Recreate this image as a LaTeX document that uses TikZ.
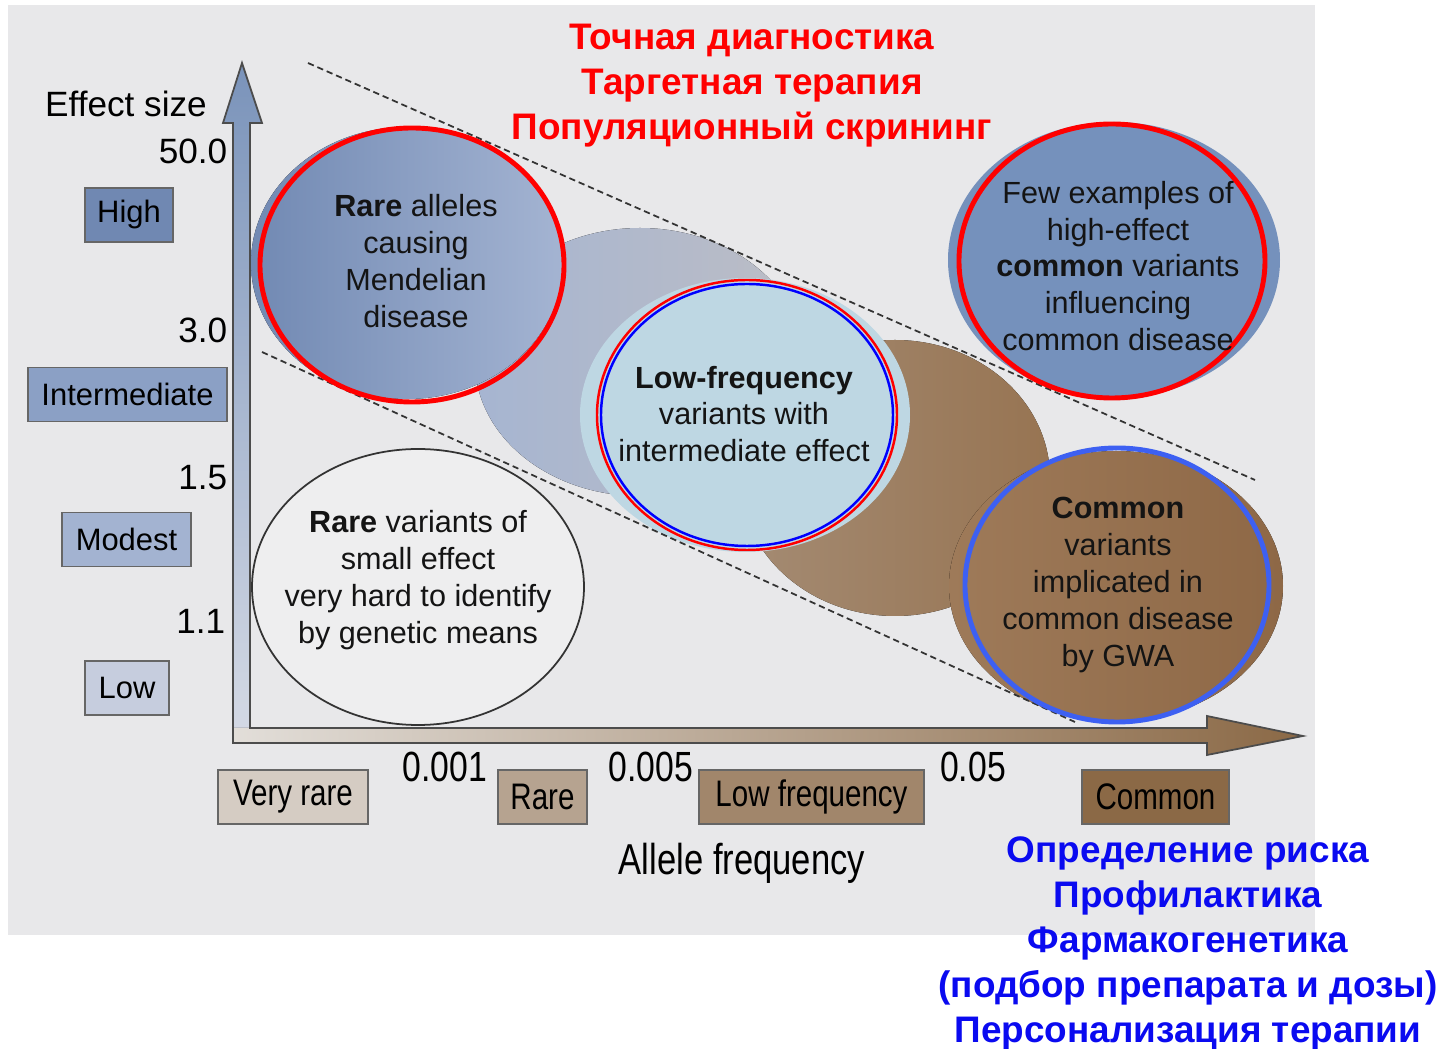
\documentclass[tikz,border=0pt]{standalone}
\usepackage{fontspec}
\setmainfont{Liberation Sans}
\newfontfamily\narrowfont[FakeStretch=0.8]{Liberation Sans}

\definecolor{bgGrey}{HTML}{E8E8EA}
\definecolor{axBlueTop}{HTML}{7A93BA}
\definecolor{axBlueBot}{HTML}{D5DAE5}
\definecolor{axBrownL}{HTML}{E2DED9}
\definecolor{axBrownR}{HTML}{8B6946}
\definecolor{rareBlobL}{HTML}{7189B3}
\definecolor{rareBlobR}{HTML}{A4B4D2}
\definecolor{midBlobL}{HTML}{A6B5D1}
\definecolor{midBlobR}{HTML}{BCBDC5}
\definecolor{lowBlob}{HTML}{BED7E3}
\definecolor{brownBlobL}{HTML}{A48B73}
\definecolor{brownBlobR}{HTML}{977452}
\definecolor{fewBlob}{HTML}{7591BC}
\definecolor{commonBlobL}{HTML}{9E7A59}
\definecolor{commonBlobR}{HTML}{8E6846}
\definecolor{gwaBlue}{HTML}{3D60F2}
\definecolor{titleBlue}{HTML}{0A0AF0}
\definecolor{highBox}{HTML}{7088B2}
\definecolor{interBox}{HTML}{8BA0C5}
\definecolor{modestBox}{HTML}{A3B3D1}
\definecolor{lowBox}{HTML}{C6CDDE}

\begin{document}
\begin{tikzpicture}[x=0.01cm,y=-0.01cm,
    sizebox/.style={draw=black!60, line width=0.5pt, inner sep=0pt, minimum height=0.54cm,
      font=\fontsize{8.8}{10}\selectfont},
    freqbox/.style={draw=black!60, line width=0.5pt, inner sep=0pt, minimum height=0.54cm,
      font=\narrowfont\fontsize{10.5}{12}\selectfont},
    ticklbl/.style={font=\narrowfont\fontsize{12}{14}\selectfont},
    esize/.style={anchor=east, inner sep=0pt, font=\fontsize{10}{12}\selectfont},
    blobtext/.style={align=center, text=black!92, font=\fontsize{8.7}{10.5}\selectfont},
    guide/.style={black!80, line width=0.5pt, dash pattern=on 1.8pt off 1.1pt},
    mark red/.style={red, line width=1.4pt},
    russian/.style={align=center, font=\bfseries\fontsize{10.5}{12.8}\selectfont}
  ]
\useasboundingbox (0,0) rectangle (1450,1049);
\fill[bgGrey] (8,5) rectangle (1315,935);

% axes
\fill[top color=axBlueTop, bottom color=axBlueBot] (233,743) -- (233,123) -- (223,123) -- (242,63)
  -- (262,123) -- (250,123) -- (250,743) -- cycle;
\fill[left color=axBrownL, right color=axBrownR] (233,728) -- (1207,728) -- (1207,716) -- (1303,736)
  -- (1207,755) -- (1207,743) -- (233,743) -- cycle;
\draw[black!70, line width=0.5pt] (250,728) -- (250,123) -- (262,123) -- (242,63) -- (223,123)
  -- (233,123) -- (233,743) -- (1207,743) -- (1207,755) -- (1303,736) -- (1207,716) -- (1207,728) -- cycle;

% blobs
\fill[left color=midBlobL, right color=midBlobR] (640,362) ellipse [x radius=165, y radius=134];
\fill[left color=brownBlobL, right color=brownBlobR] (895,478) ellipse [x radius=155, y radius=138];
\fill[left color=rareBlobL, right color=rareBlobR] (407,263) ellipse [x radius=156, y radius=136];
\fill[fewBlob] (1114,260) ellipse [x radius=166, y radius=138];
\fill[lowBlob] (745,415) ellipse [x radius=165, y radius=137];
\fill[left color=commonBlobL, right color=commonBlobR] (1116,586) ellipse [x radius=167, y radius=135];
\filldraw[fill=bgGrey!75!white, draw=black!80, line width=0.5pt] (418,587) ellipse [x radius=166, y radius=138];

% dashed limits
\coordinate (upA) at (308,63);
\coordinate (upB) at (1255,480);
\coordinate (loA) at (262,352);
\coordinate (loB) at (1075,722);
\draw[guide] (upA) -- (upB);
\draw[guide] (loA) -- (loB);

% marks
\draw[mark red] (412,265) ellipse [x radius=152, y radius=137];
\draw[mark red] (1112,261) ellipse [x radius=153, y radius=137];
\draw[red, line width=0.7pt] (747,415) ellipse [x radius=150, y radius=135];
\draw[blue, line width=0.7pt] (747,415) ellipse [x radius=146, y radius=131];
\draw[gwaBlue, line width=1.4pt] (1117,585) ellipse [x radius=152, y radius=137];

% blob texts
\node[blobtext] (mendel) at (416,261) {\textbf{Rare} alleles\\causing\\Mendelian\\disease};
\node[blobtext] (lowfx) at (744,414) {\textbf{Low-frequency}\\variants with\\intermediate effect};
\node[blobtext] (highcv) at (1118,266) {Few examples of\\high-effect\\\textbf{common} variants\\influencing\\common disease};
\node[blobtext] (gwa) at (1118,585) {\textbf{Common}\\variants\\implicated in\\common disease\\by GWA};
\node[blobtext] (smallfx) at (418,580) {\textbf{Rare} variants of\\small effect\\very hard to identify\\by genetic means};

% effect size axis
\node[font=\fontsize{10}{12}\selectfont] (esize) at (126,104) {Effect size};
\node[esize] (e50) at (228,151) {50.0};
\node[esize] (e3) at (228,330) {3.0};
\node[esize] (e15) at (228,478) {1.5};
\node[esize] (e11) at (226,621) {1.1};
\node[sizebox, fill=highBox, minimum width=0.88cm] (high) at (129,215) {High};
\node[sizebox, fill=interBox, minimum width=1.99cm] (inter) at (127.5,394.5) {Intermediate};
\node[sizebox, fill=modestBox, minimum width=1.29cm] (modest) at (126.5,539.5) {Modest};
\node[sizebox, fill=lowBox, minimum width=0.84cm] (low) at (127,688) {Low};

% allele frequency axis
\node[ticklbl] (f001) at (445,767) {0.001};
\node[ticklbl] (f005) at (651,767) {0.005};
\node[ticklbl] (f05) at (973,767) {0.05};
\node[freqbox, fill=axBrownL!85!axBrownR, minimum width=1.50cm] (vrare) at (293,797) {Very rare};
\node[freqbox, fill=axBrownL!50!axBrownR, minimum width=0.89cm] (rare) at (542.5,797) {Rare};
\node[freqbox, fill=axBrownL!25!axBrownR, minimum width=2.25cm] (lowfreq) at (811.5,797) {Low frequency};
\node[freqbox, fill=axBrownR, minimum width=1.47cm] (common) at (1155.5,797) {Common};
\node[font=\narrowfont\fontsize{12.3}{14}\selectfont] (afreq) at (742,863) {Allele frequency};

% russian notes
\node[russian, text=red] (diag) at (752,86) {Точная диагностика\\Таргетная терапия\\Популяционный скрининг};
\node[russian, text=titleBlue] (risk) at (1188,943) {Определение риска\\Профилактика\\Фармакогенетика\\(подбор препарата и дозы)\\Персонализация терапии};
\end{tikzpicture}
\end{document}
